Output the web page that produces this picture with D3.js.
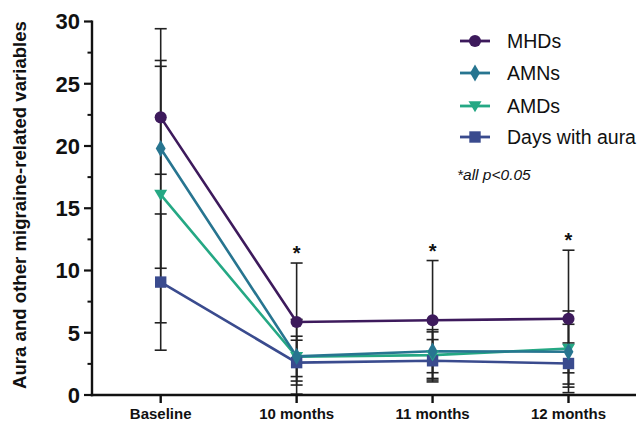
<!DOCTYPE html>
<html><head><meta charset="utf-8">
<script src="https://cdn.jsdelivr.net/npm/d3@7"></script>
<style>body{margin:0;background:#fff}svg{display:block}text{font-family:"Liberation Sans",Arial,sans-serif}</style>
</head><body><svg id="c" width="639" height="424"></svg>
<script>
const categories = ["Baseline", "10 months", "11 months", "12 months"];
const seriesNames = ["MHDs", "AMNs", "AMDs", "Days with aura"];
const mhdMean = [22.3, 5.86, 6.0, 6.13];
const mhdSD   = [4.57, 4.74, 4.8, 5.5];
const amnMean = [19.8, 3.1, 3.52, 3.47];
const amnSD   = [9.62, 1.62, 1.73, 3.28];
const amdMean = [16.1, 3.07, 3.2, 3.73];
const amdSD   = [10.3, 3.0, 1.87, 1.95];
const auraMean = [9.07, 2.6, 2.75, 2.53];
const auraSD   = [5.47, 1.8, 1.7, 1.65];
const yTicks = [0, 5, 10, 15, 20, 25, 30];
const yMinorTicks = [2.5, 7.5, 12.5, 17.5, 22.5, 27.5];
const starCategories = ["10 months", "11 months", "12 months"];
const starRef = [10.6, 10.8, 11.63];
const colors = ["#3d1a5c", "#277590", "#25a884", "#3a4b8e"];
const symbols = [d3.symbolCircle, d3.symbolDiamond, "tri", d3.symbolSquare];

const series = [
  {name: seriesNames[0], mean: mhdMean, sd: mhdSD},
  {name: seriesNames[1], mean: amnMean, sd: amnSD},
  {name: seriesNames[2], mean: amdMean, sd: amdSD},
  {name: seriesNames[3], mean: auraMean, sd: auraSD}
];

const svg = d3.select("#c");
const x = d3.scalePoint().domain(categories).range([160.7, 568.5]);
const y = d3.scaleLinear().domain([0, 30]).range([395, 21.5]);
const axisLeftX = 92, axisRightX = 636;

function markerPath(i, size) {
  if (symbols[i] === "tri") {
    const s = size;
    return `M${-s},${-s*0.75}L${s},${-s*0.75}L0,${s*0.95}Z`;
  }
  const areas = [115, 85, 0, 130];
  return d3.symbol().type(symbols[i]).size(areas[i])();
}

// error bars
const eb = svg.append("g").attr("stroke", "#222").attr("stroke-width", 1.6).attr("fill", "none");
series.forEach((s) => {
  categories.forEach((c, j) => {
    const cx = x(c), hi = y(s.mean[j] + s.sd[j]), lo = y(Math.max(0, s.mean[j] - s.sd[j]));
    eb.append("line").attr("x1", cx).attr("x2", cx).attr("y1", hi).attr("y2", lo);
    eb.append("line").attr("x1", cx - 6).attr("x2", cx + 6).attr("y1", hi).attr("y2", hi);
    eb.append("line").attr("x1", cx - 6).attr("x2", cx + 6).attr("y1", lo).attr("y2", lo);
  });
});

// lines and markers (drawn bottom series first)
const line = d3.line().x((d, j) => x(categories[j])).y(d => y(d));
[3, 2, 1, 0].forEach(i => {
  const s = series[i];
  svg.append("path").attr("d", line(s.mean)).attr("fill", "none")
    .attr("stroke", colors[i]).attr("stroke-width", 2.6);
});
[3, 2, 1, 0].forEach(i => {
  const s = series[i];
  svg.append("g").selectAll("path").data(s.mean).join("path")
    .attr("transform", (d, j) => `translate(${x(categories[j])},${y(d)})`)
    .attr("d", markerPath(i, 6.5)).attr("fill", colors[i]);
});

// axes
const ax = svg.append("g").attr("stroke", "#111");
ax.append("line").attr("x1", axisLeftX).attr("x2", axisLeftX).attr("y1", y(30) - 1).attr("y2", y(0) + 1.2).attr("stroke-width", 2.4);
ax.append("line").attr("x1", axisLeftX - 1.2).attr("x2", axisRightX).attr("y1", y(0)).attr("y2", y(0)).attr("stroke-width", 2.4);
yTicks.forEach(t => ax.append("line").attr("x1", axisLeftX - 8).attr("x2", axisLeftX).attr("y1", y(t)).attr("y2", y(t)).attr("stroke-width", 2.2));
yMinorTicks.forEach(t => ax.append("line").attr("x1", axisLeftX - 4.5).attr("x2", axisLeftX).attr("y1", y(t)).attr("y2", y(t)).attr("stroke-width", 2));
categories.forEach(c => ax.append("line").attr("x1", x(c)).attr("x2", x(c)).attr("y1", y(0)).attr("y2", y(0) + 8).attr("stroke-width", 2.4));

svg.append("g").selectAll("text").data(yTicks).join("text")
  .attr("x", 80).attr("y", d => y(d)).attr("dy", "0.36em").attr("text-anchor", "end")
  .attr("font-size", 22).attr("font-weight", "bold").attr("fill", "#111").text(d => d);

svg.append("g").selectAll("text").data(categories).join("text")
  .attr("x", d => x(d)).attr("y", 419).attr("text-anchor", "middle")
  .attr("font-size", 15).attr("font-weight", "bold").attr("fill", "#111").text(d => d);

svg.append("text").attr("transform", "translate(26,205) rotate(-90)").attr("text-anchor", "middle")
  .attr("font-size", 18.6).attr("font-weight", "bold").attr("fill", "#111")
  .text("Aura and other migraine-related variables");

// significance stars
svg.append("g").selectAll("text").data(starCategories).join("text")
  .attr("x", d => x(d)).attr("y", (d, i) => y(starRef[i]) - 3).attr("text-anchor", "middle")
  .attr("font-size", 20).attr("font-weight", "bold").attr("fill", "#111").text("*");

// legend
const legendY = [41, 73, 106, 137];
const lg = svg.append("g");
series.forEach((s, i) => {
  const g = lg.append("g").attr("transform", `translate(475,${legendY[i]})`);
  g.append("line").attr("x1", -15).attr("x2", 15).attr("stroke", colors[i]).attr("stroke-width", 2.8);
  g.append("path").attr("d", markerPath(i, 6.5)).attr("fill", colors[i]);
  g.append("text").attr("x", 32).attr("dy", "0.36em").attr("font-size", 19.5).attr("fill", "#111").text(s.name);
});
svg.append("text").attr("x", 457).attr("y", 180).attr("font-size", 15.5).attr("font-style", "italic")
  .attr("fill", "#111").text("*all p<0.05");
</script></body></html>
